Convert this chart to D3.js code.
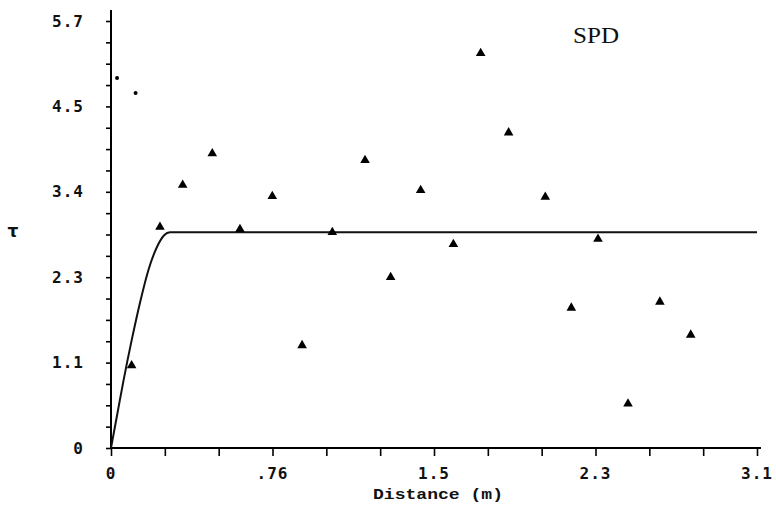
<!DOCTYPE html>
<html>
<head>
<meta charset="utf-8">
<script src="https://cdn.jsdelivr.net/npm/d3@7"></script>
<style>
  html, body { margin: 0; padding: 0; background: #fff; }
</style>
</head>
<body>
<div id="chart"></div>
<script>
// Semivariogram, SPD

// experimental points (triangles)
const lagX = [0.099, 0.235, 0.344, 0.486, 0.619, 0.774, 0.917, 1.062, 1.219, 1.342,
              1.486, 1.643, 1.774, 1.908, 2.084, 2.209, 2.337, 2.481, 2.634, 2.782];
const gammaY = [1.10, 2.95, 3.51, 3.93, 2.92, 3.36, 1.37, 2.88, 3.84, 2.28,
                3.44, 2.72, 5.27, 4.21, 3.35, 1.87, 2.79, 0.59, 1.95, 1.51];

// two small dots near the origin
const dotX = [0.029, 0.118];
const dotY = [4.94, 4.74];

// fitted model line
const modelX = [0, 0.03, 0.06, 0.10, 0.14, 0.18, 0.22, 0.255, 0.283, 3.1];
const modelY = [0, 0.45, 0.90, 1.45, 1.95, 2.38, 2.68, 2.84, 2.88, 2.88];

// tick labels
const xTickVals = [0, 0.775, 1.55, 2.325, 3.1];
const xTickLabels = ["0", ".76", "1.5", "2.3", "3.1"];
const yTickVals = [0, 1.14, 2.28, 3.42, 4.56, 5.7];
const yTickLabels = ["0", "1.1", "2.3", "3.4", "4.5", "5.7"];

const width = 776;
const height = 508;
const margin = { top: 21, right: 19, bottom: 60, left: 111 };

const svg = d3.select("#chart")
    .append("svg")
    .attr("width", width)
    .attr("height", height)
    .style("display", "block");

const x = d3.scaleLinear()
    .domain([0, 3.1])
    .range([margin.left, width - margin.right]);

const y = d3.scaleLinear()
    .domain([0, 5.7])
    .range([height - margin.bottom, margin.top]);

const tickFont = "'DejaVu Sans Mono', monospace";

// x axis with minor ticks
const xAxis = d3.axisBottom(x)
    .tickValues(d3.range(0, 13).map(i => i * 3.1 / 12))
    .tickSize(8)
    .tickSizeOuter(0)
    .tickFormat("");

svg.append("g")
    .attr("transform", `translate(0,${y(0)})`)
    .call(xAxis)
    .call(g => g.select(".domain").attr("stroke-width", 2).attr("d", `M${x(0)},0H${x(3.1) + 4}`))
    .call(g => g.selectAll(".tick line").attr("stroke-width", 1.6));

// y axis with minor ticks
const yAxis = d3.axisLeft(y)
    .tickValues(d3.range(0, 21).map(i => i * 5.7 / 20))
    .tickSize(5)
    .tickSizeOuter(0)
    .tickFormat("");

svg.append("g")
    .attr("transform", `translate(${x(0)},0)`)
    .call(yAxis)
    .call(g => g.select(".domain").attr("stroke-width", 2).attr("d", `M0,${y(0)}V${y(5.7) - 11}`))
    .call(g => g.selectAll(".tick line").attr("stroke-width", 1.6));

// tick labels
svg.append("g")
    .selectAll("text")
    .data(xTickVals)
    .join("text")
    .attr("x", d => x(d))
    .attr("y", y(0) + 25)
    .attr("dy", "0.35em")
    .attr("text-anchor", "middle")
    .attr("font-family", tickFont)
    .attr("font-weight", "bold")
    .attr("font-size", 16)
    .attr("letter-spacing", 1)
    .attr("fill", "#111")
    .text((d, i) => xTickLabels[i]);

svg.append("g")
    .selectAll("text")
    .data(yTickVals)
    .join("text")
    .attr("x", 84)
    .attr("y", d => y(d))
    .attr("dy", "0.35em")
    .attr("text-anchor", "end")
    .attr("font-family", tickFont)
    .attr("font-weight", "bold")
    .attr("font-size", 16)
    .attr("letter-spacing", 1)
    .attr("fill", "#111")
    .text((d, i) => yTickLabels[i]);

// axis titles
svg.append("text")
    .attr("x", 373)
    .attr("y", 494)
    .attr("dy", "0.35em")
    .attr("font-family", "'Liberation Mono', monospace")
    .attr("font-weight", "bold")
    .attr("font-size", 15)
    .attr("textLength", 130)
    .attr("lengthAdjust", "spacingAndGlyphs")
    .attr("fill", "#111")
    .text("Distance (m)");

svg.append("text")
    .attr("x", 13)
    .attr("y", 231)
    .attr("dy", "0.35em")
    .attr("text-anchor", "middle")
    .attr("font-family", "'DejaVu Sans', sans-serif")
    .attr("font-weight", "bold")
    .attr("font-size", 17)
    .attr("fill", "#111")
    .text("τ");

// panel label
svg.append("text")
    .attr("x", 573)
    .attr("y", 43)
    .attr("font-family", "'Liberation Serif', serif")
    .attr("font-size", 24)
    .attr("textLength", 46)
    .attr("lengthAdjust", "spacingAndGlyphs")
    .attr("fill", "#111")
    .text("SPD");

// model line
const line = d3.line()
    .x(d => x(d[0]))
    .y(d => y(d[1]))
    .curve(d3.curveMonotoneX);

svg.append("path")
    .datum(modelX.map((v, i) => [v, modelY[i]]))
    .attr("fill", "none")
    .attr("stroke", "#111")
    .attr("stroke-width", 2)
    .attr("d", line);

// experimental semivariances
const tri = d3.symbol().type(d3.symbolTriangle).size(40);

svg.append("g")
    .selectAll("path")
    .data(lagX.map((v, i) => [v, gammaY[i]]))
    .join("path")
    .attr("transform", d => `translate(${x(d[0])},${y(d[1])})`)
    .attr("d", tri)
    .attr("fill", "#000");

svg.append("g")
    .selectAll("circle")
    .data(dotX.map((v, i) => [v, dotY[i]]))
    .join("circle")
    .attr("cx", d => x(d[0]))
    .attr("cy", d => y(d[1]))
    .attr("r", 2)
    .attr("fill", "#000");
</script>
</body>
</html>
